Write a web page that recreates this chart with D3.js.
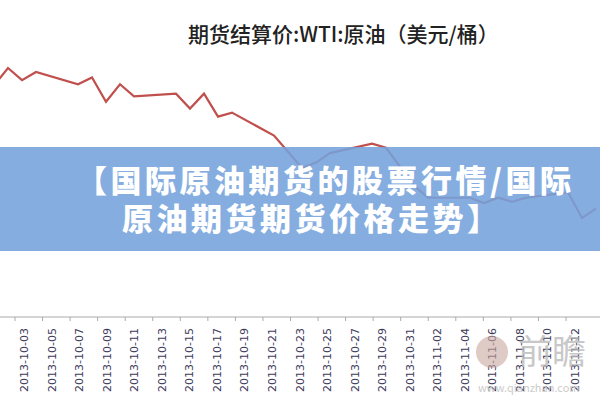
<!DOCTYPE html>
<html lang="zh">
<head>
<meta charset="UTF-8">
<script src="https://cdn.jsdelivr.net/npm/d3@7"></script>
<style>
    body { margin: 0; background: #fff; }
    svg { display: block; font-family: "Noto Sans CJK SC", sans-serif; }
</style>
</head>
<body>
<div id="chart"></div>
<script>
    const chartTitle = "期货结算价:WTI:原油（美元/桶）";
    const bannerLines = ["【国际原油期货的股票行情/国际", "原油期货期货价格走势】"];

    const dates = [
        "2013-10-01", "2013-10-02", "2013-10-03", "2013-10-04",
        "2013-10-07", "2013-10-08", "2013-10-09", "2013-10-10", "2013-10-11",
        "2013-10-14", "2013-10-15", "2013-10-16", "2013-10-17", "2013-10-18",
        "2013-10-21", "2013-10-22", "2013-10-23", "2013-10-24", "2013-10-25",
        "2013-10-28", "2013-10-29", "2013-10-30", "2013-10-31", "2013-11-01",
        "2013-11-04", "2013-11-05", "2013-11-06", "2013-11-07", "2013-11-08",
        "2013-11-11", "2013-11-12", "2013-11-13"
    ];
    const prices = [
        102.8, 104.1, 103.2, 103.8,
        102.9, 103.4, 101.6, 102.9, 102.0,
        102.2, 101.1, 102.2, 100.5, 100.8,
        99.1, 97.9, 96.7, 97.1, 97.8,
        98.5, 98.2, 96.8, 95.4, 94.5,
        94.5, 94.1, 94.5, 94.2, 94.5,
        94.9, 93.0, 93.7
    ];
    const tickLabels = [
        "2013-10-03", "2013-10-05", "2013-10-07", "2013-10-09", "2013-10-11",
        "2013-10-13", "2013-10-15", "2013-10-17", "2013-10-19", "2013-10-21",
        "2013-10-23", "2013-10-25", "2013-10-27", "2013-10-29", "2013-10-31",
        "2013-11-02", "2013-11-04", "2013-11-06", "2013-11-08", "2013-11-10",
        "2013-11-12"
    ];

    const width = 600, height = 400;
    const parse = d3.timeParse("%Y-%m-%d");
    const data = dates.map((d, i) => ({ date: parse(d), price: prices[i] }));

    const svg = d3.select("#chart").append("svg")
        .attr("width", width).attr("height", height);

    svg.append("text")
        .attr("x", 188).attr("y", 42)
        .style("font-size", "21px")
        .style("font-weight", "500")
        .attr("fill", "#222")
        .text(chartTitle);

    const x = d3.scaleTime()
        .domain([parse("2013-10-02"), parse("2013-11-13")])
        .range([8, 596]);
    const y = d3.scaleLinear().domain([93.0, 104.1]).range([218, 68]);

    const line = d3.line().x(d => x(d.date)).y(d => y(d.price));

    svg.append("path")
        .datum(data)
        .attr("d", line)
        .attr("fill", "none")
        .attr("stroke", "#c0504d")
        .attr("stroke-width", 2.2);

    // category axis with rotated date labels
    const xl = d3.scalePoint().domain(tickLabels).range([24, 575]);
    const axisY = 317;
    const ax = svg.append("g").attr("transform", `translate(0,${axisY})`);
    ax.append("line").attr("x1", 0).attr("x2", width).attr("stroke", "#aaa");
    ax.selectAll("line.tick")
        .data(tickLabels)
        .join("line")
        .attr("class", "tick")
        .attr("x1", d => xl(d) - 9)
        .attr("x2", d => xl(d) - 9)
        .attr("y2", 4)
        .attr("stroke", "#aaa");
    ax.selectAll("text")
        .data(tickLabels)
        .join("text")
        .attr("transform", d => `translate(${xl(d) + 4},${11}) rotate(-90)`)
        .attr("text-anchor", "end")
        .style("font-size", "11px")
        .style("font-family", "DejaVu Sans, sans-serif")
        .attr("fill", "#3d3a5a")
        .text(d => d);

    // watermark
    svg.append("circle").attr("cx", 492).attr("cy", 352).attr("r", 16)
        .attr("fill", "#c9a8a0").attr("opacity", 0.6);
    svg.append("text")
        .attr("x", 518).attr("y", 364)
        .style("font-size", "34px")
        .attr("fill", "#bbb").attr("opacity", 0.8)
        .text("前瞻");
    svg.append("text")
        .attr("x", 478).attr("y", 392)
        .style("font-size", "11px")
        .attr("fill", "#ccc")
        .text("www.qianzhan.com");

    // banner overlay
    svg.append("rect")
        .attr("x", 0).attr("y", 147)
        .attr("width", width).attr("height", 104)
        .attr("fill", "#74a2dc")
        .attr("opacity", 0.88);
    const bannerX = [76, 122];
    const bannerY = [192, 230];
    bannerLines.forEach((t, i) => {
        svg.append("text")
            .attr("x", bannerX[i]).attr("y", bannerY[i])
            .style("font-size", "31px")
            .style("font-weight", "900")
            .style("letter-spacing", "3.5px")
            .attr("fill", "#fff")
            .text(t);
    });
</script>
</body>
</html>
